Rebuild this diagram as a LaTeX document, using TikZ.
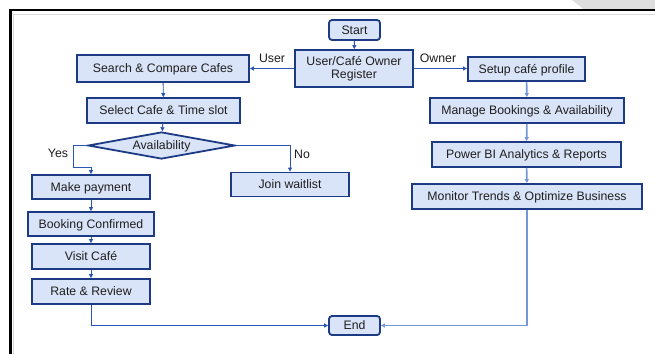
\documentclass[tikz,border=0pt]{standalone}
\usepackage{fontspec}
\setmainfont{Liberation Sans}
\usetikzlibrary{shapes.geometric,arrows.meta}
\definecolor{boxfill}{HTML}{DAE4F8}
\definecolor{boxline}{HTML}{1D3A85}
\definecolor{linkdark}{HTML}{2A55B2}
\definecolor{linklight}{HTML}{7497D8}
\definecolor{txt}{HTML}{1E1E1E}
\definecolor{corner}{HTML}{DEDEDE}
\begin{document}
\begin{tikzpicture}[x=1pt,y=-1pt,
  font=\fontsize{12.3}{14}\selectfont, text=txt,
  boxbase/.style={draw=boxline, line width=1.8pt, fill=boxfill, inner sep=0pt, align=center},
  procbox/.style={boxbase, text height=9.3pt, text depth=0.5pt},
  termbox/.style={procbox, rounded corners=3pt},
  decbox/.style={boxbase, diamond, aspect=5.4, text height=9.3pt, text depth=0.5pt},
  link/.style={draw=linkdark, line width=0.9pt, -{Triangle[length=4pt,width=4pt]}},
  linkl/.style={draw=linklight, line width=1.6pt, -{Triangle[length=4pt,width=4pt]}},
  lbl/.style={inner sep=0pt, text=txt}]
\useasboundingbox (0,0) rectangle (655,354);
% page frame
\fill[white] (0,0) rectangle (655,354);
\fill[corner] (572,0) -- (655,0) -- (655,9.5) -- (584,9.5) -- cycle;
\draw[black!15, line width=0.8pt] (13.5,354) -- (13.5,14) -- (655,14);
\draw[black, line width=1.6pt] (655,10) -- (10,10);
\draw[black, line width=2.6pt] (10.3,9.2) -- (10.3,354);

% nodes
\node[termbox, minimum width=51pt, minimum height=20pt] (start) at (354.5,30) {Start};
\node[boxbase, minimum width=118pt, minimum height=37pt] (reg) at (354,68.5) {User/Café Owner\\[-1pt]Register};
\node[procbox, minimum width=172pt, minimum height=27pt] (search) at (163,68.5) {Search \& Compare Cafes};
\node[procbox, minimum width=153pt, minimum height=25pt] (select) at (163.5,110.5) {Select Cafe \& Time slot};
\node[decbox, minimum width=147pt, minimum height=27pt] (avail) at (161.5,145.5) {Availability};
\node[procbox, minimum width=118pt, minimum height=24pt] (pay) at (91,187) {Make payment};
\node[procbox, minimum width=118pt, minimum height=24pt] (wait) at (290,184.5) {Join waitlist};
\node[procbox, minimum width=126pt, minimum height=24pt] (conf) at (91,224) {Booking Confirmed};
\node[procbox, minimum width=118pt, minimum height=25pt] (visit) at (91,256.5) {Visit Café};
\node[procbox, minimum width=118pt, minimum height=25pt] (rate) at (91,291.5) {Rate \& Review};
\node[termbox, minimum width=51pt, minimum height=19pt] (end) at (354.5,325.5) {End};
\node[procbox, minimum width=117pt, minimum height=24pt] (setup) at (526.5,69) {Setup café profile};
\node[procbox, minimum width=194pt, minimum height=25pt] (manage) at (527,110.5) {Manage Bookings \& Availability};
\node[procbox, minimum width=189pt, minimum height=25pt] (power) at (526.5,154.5) {Power BI Analytics \& Reports};
\node[procbox, minimum width=230pt, minimum height=25pt] (monitor) at (527,196.5) {Monitor Trends \& Optimize Business};

% branch labels
\node[lbl] (luser) at (272,58) {User};
\node[lbl] (lowner) at (438,58) {Owner};
\node[lbl] (lyes) at (58,153) {Yes};
\node[lbl] (lno) at (302,154) {No};

% connectors
\coordinate (yesA) at (73,145.5);
\coordinate (yesB) at (73,167);
\coordinate (yesC) at (91,167);
\draw[link] (start) -- (reg);
\draw[link] (reg.west) -- (search.east);
\draw[link] (reg.east) -- (setup.west |- reg.east);
\draw[link] (search) -- (select);
\draw[link] (select) -- (avail);
\draw[link] (avail.west) -- (yesA) -- (yesB) -- (yesC) -- (pay.north);
\draw[link] (avail.east) -| (wait.north);
\draw[link] (pay) -- (conf);
\draw[link] (conf) -- (visit);
\draw[link] (visit) -- (rate);
\draw[link] (rate.south) |- (end.west);
\draw[linkl] (setup) -- (manage);
\draw[linkl] (manage) -- (power);
\draw[linkl] (power) -- (monitor);
\draw[linkl] (monitor.south) |- (end.east);
\end{tikzpicture}
\end{document}
